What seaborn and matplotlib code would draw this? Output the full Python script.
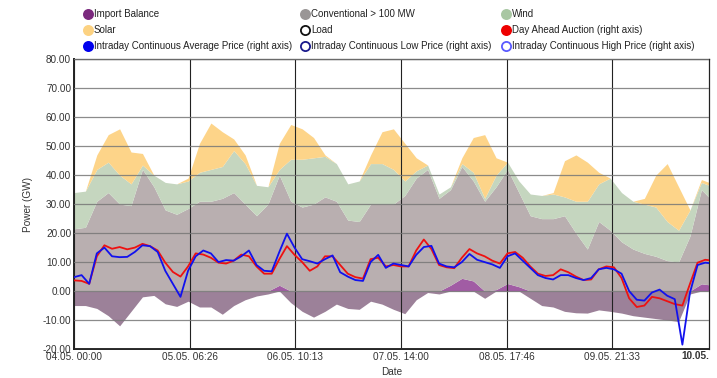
import numpy as np
import pandas as pd
import matplotlib
matplotlib.use("Agg")
import matplotlib.pyplot as plt
from matplotlib.lines import Line2D
import seaborn as sns

# Generation in GW, 3-hour steps, hours since 04.05. 00:00
area_hours = list(range(0, 169, 3))
import_balance = [-5, -5, -6, -8.5, -12, -7, -2, -1.5, -4.4, -5.3, -3.5, -5.5, -5.5, -8, -5, -3, -1.7,
                  -1, 2, -4, -7, -9, -7, -4.5, -6, -6.3, -3.5, -4.5, -6.3, -7.8, -3, -0.5, -1, 2,
                  4.4, 3.5, -2.5, 0.5, 2.6, 1.5, -2.5, -5, -5.5, -7, -7.5, -7.6, -6.5, -7, -7.6,
                  -8.5, -9, -9.5, -10, -10.5, -1, 2.5, 2]
conventional = [21.5, 22, 31, 34, 30, 29.5, 42, 36, 28, 26.5, 28.5, 31, 31, 32, 34, 30, 26,
                30, 38, 31, 29, 30, 32.5, 31, 24.5, 24, 30, 30, 30, 33, 39, 42, 32, 33,
                38.6, 34.5, 31, 35.5, 39.4, 32.5, 26, 25, 25, 26, 20, 14.5, 24, 21, 17,
                14.5, 13, 12, 10.5, 10, 19, 32.5, 29]
wind = [12.5, 12.5, 11, 10.5, 10, 7.5, 1.5, 4, 9.5, 10.5, 9.5, 10, 11, 11, 14.5, 14, 10.5,
        6, 2, 14.5, 16.5, 16, 14, 13, 12.5, 14, 14, 14, 12, 5, 2.5, 1.5, 1.5, 1,
        1, 3, 1, 4, 2.5, 4, 7.5, 8, 8.5, 6.5, 11, 16.5, 13, 18, 17,
        16.5, 17, 17, 13.5, 11, 9, 2.5, 5]
solar = [0, 0, 5, 9.5, 16, 11, 4, 0, 0, 0, 1, 10, 16, 12, 4, 3, 0,
         0, 9, 12, 10.5, 7, 0.5, 0, 0, 0, 3, 11, 14, 13, 4.5, 0, 0, 0,
         2, 12, 22, 6, 0, 0, 0, 0, 0.5, 12.5, 16, 13.5, 4, 0, 0,
         0, 2, 11, 20, 15, 0, 1, 1]

# Prices in EUR/MWh, 2-hour steps
price_hours = list(range(0, 169, 2))
day_ahead = [3.7, 3.5, 2.5, 12, 15.8, 14.6, 15.2, 14.4, 15, 16.3, 15.5, 14, 9.8, 6.6, 5, 8.5,
             13, 12.6, 11.5, 9.8, 9.5, 10.5, 12.6, 12, 8.5, 6, 6, 11, 15.5, 12.5, 10, 7,
             8.5, 12, 12, 9, 6, 4.8, 4.3, 11, 11.5, 8.5, 9, 8.5, 8.5, 14, 17.8, 14.5,
             9, 8.2, 7.9, 11.5, 14.5, 13, 12, 10.5, 9.5, 13, 13.5, 11.5, 8.5, 6, 5.2, 5.5,
             7.5, 6.5, 5, 3.8, 4, 7.5, 8.5, 8.2, 4.5, -2.5, -5.5, -5, -2, -2.5, -3.5, -4.5,
             -5, 2.5, 9.8, 10.8, 10.5]
intraday_avg = [4.8, 5.5, 2.5, 13, 15, 12, 11.7, 11.8, 13.5, 15.8, 15.5, 13.5, 7, 2.5, -2, 7,
                12, 14, 13, 10, 10.7, 10.5, 12, 14, 9, 7, 6.8, 13.5, 19.8, 15, 11, 10.3,
                9.5, 11, 12.3, 6.5, 5, 3.8, 3.5, 10, 12.5, 8, 9.5, 9, 8.5, 12.5, 15.2, 15.6,
                9.5, 8.5, 8.2, 10, 12.8, 10.8, 10, 9.2, 8, 12, 13, 10.5, 8, 5.5, 4.5, 4,
                5.5, 5.5, 4.5, 3.8, 4.5, 7.5, 8, 7.5, 6, 0, -3, -3.3, -0.5, 0.5, -1.6, -2.8,
                -18.5, -0.5, 9, 9.8, 9.5]

x_tick_labels = ["04.05. 00:00", "05.05. 06:26", "06.05. 10:13", "07.05. 14:00",
                 "08.05. 17:46", "09.05. 21:33"]
end_label = "10.05."
x_end = 167

series_names = ["Import Balance", "Conventional > 100 MW", "Wind", "Solar", "Load",
                "Day Ahead Auction (right axis)",
                "Intraday Continuous Average Price (right axis)",
                "Intraday Continuous Low Price (right axis)",
                "Intraday Continuous High Price (right axis)"]


def label_hours(lbl):
    day, rest = lbl.split(". ")
    d = int(day.split(".")[0])
    hh, mm = rest.split(":")
    return (d - 4) * 24 + int(hh) + int(mm) / 60


sns.set_theme(style="white")
plt.rcParams["font.family"] = ["Liberation Sans", "DejaVu Sans"]

fig = plt.figure(figsize=(7.17, 3.78), dpi=100)
ax = fig.add_axes([74 / 717, 29 / 378, 635 / 717, 289.7 / 378])

col_imp_neg = "#9c8199"
col_imp_pos = "#a15ca4"
col_conv = "#b9afb0"
col_wind = "#c5d6bf"
col_solar = "#fdd489"

h = np.array(area_hours, dtype=float)
imp = np.array(import_balance)
pos = np.clip(imp, 0, None)
neg = np.clip(imp, None, 0)
top_conv = pos + np.array(conventional)
top_wind = top_conv + np.array(wind)
top_solar = top_wind + np.array(solar)

ax.fill_between(h, 0, neg, color=col_imp_neg, lw=0, zorder=1)
ax.fill_between(h, 0, pos, color=col_imp_pos, lw=0, zorder=1)
ax.fill_between(h, pos, top_conv, color=col_conv, lw=0, zorder=1)
ax.fill_between(h, top_conv, top_wind, color=col_wind, lw=0, zorder=1)
ax.fill_between(h, top_wind, top_solar, color=col_solar, lw=0, zorder=1)

prices = pd.DataFrame({"hour": price_hours, "da": day_ahead, "ida": intraday_avg})
sns.lineplot(data=prices, x="hour", y="da", color="#ee1111", lw=1.3, ax=ax, zorder=3)
sns.lineplot(data=prices, x="hour", y="ida", color="#1111ee", lw=1.3, ax=ax, zorder=3)

ax.set_xlim(0, x_end)
ax.set_ylim(-20, 80)
ax.set_yticks(np.arange(-20, 81, 10))
ax.set_yticklabels([f"{v:.2f}" for v in np.arange(-20, 81, 10)], fontsize=7.2, color="#333333")
tick_pos = [label_hours(l) for l in x_tick_labels]
ax.set_xticks(tick_pos)
ax.set_xticklabels(x_tick_labels, fontsize=7.2, color="#333333")
ax.text(x_end, -20.7, end_label, ha="right", va="top", fontsize=7.2, fontweight="bold",
        color="#333333")
ax.tick_params(axis="both", length=0, pad=2)

ax.set_axisbelow(False)
ax.yaxis.grid(True, color="#777777", lw=0.9, alpha=0.85)
ax.xaxis.grid(True, color="#222222", lw=0.8)
for side in ["left", "bottom", "top", "right"]:
    ax.spines[side].set_color("#222222")
ax.spines["left"].set_linewidth(1.4)
ax.spines["bottom"].set_linewidth(1.4)
ax.spines["top"].set_linewidth(0.9)
ax.spines["right"].set_linewidth(0.9)

ax.set_xlabel("Date", fontsize=7.2, color="#333333", labelpad=4)
ax.set_ylabel("Power (GW)", fontsize=7.2, color="#333333", labelpad=7)

# legend drawn in pixel coordinates on an overlay
leg = fig.add_axes([0, 0, 1, 1], facecolor="none")
leg.set_xlim(0, 717)
leg.set_ylim(378, 0)
leg.axis("off")
marker_styles = [
    dict(mfc="#7b2a7e", mec="#7b2a7e"),
    dict(mfc="#9a9696", mec="#9a9696"),
    dict(mfc="#a9c7a3", mec="#a9c7a3"),
    dict(mfc="#fcd282", mec="#fcd282"),
    dict(mfc="white", mec="#111111"),
    dict(mfc="#ee0000", mec="#ee0000"),
    dict(mfc="#0000ee", mec="#0000ee"),
    dict(mfc="white", mec="#1a1a8c"),
    dict(mfc="white", mec="#5a5aff"),
]
col_x = [88, 305, 506]
row_y = [14, 30, 46]
for i, name in enumerate(series_names):
    cx = col_x[i % 3]
    cy = row_y[i // 3]
    leg.add_line(Line2D([cx], [cy], marker="o", ms=6.6, mew=1.3, ls="none", **marker_styles[i]))
    leg.text(cx + 6, cy, name, fontsize=7, va="center", ha="left", color="#222222")

fig.savefig("out.png", dpi=100)
